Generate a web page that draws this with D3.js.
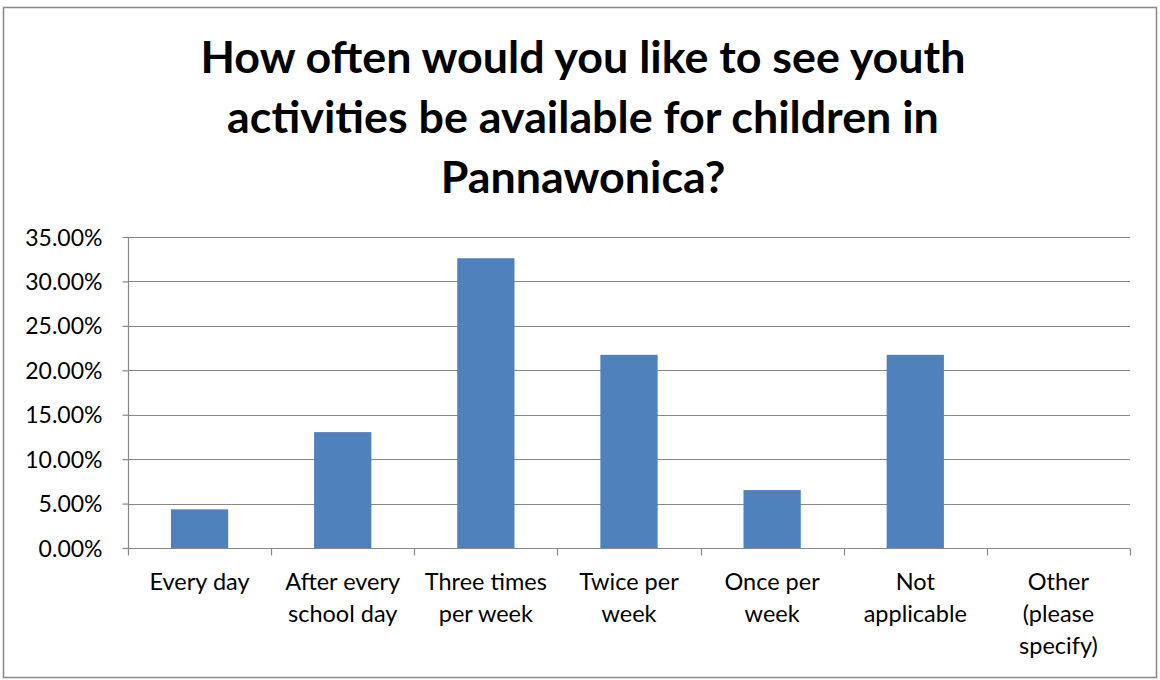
<!DOCTYPE html>
<html><head><meta charset="utf-8">
<script src="https://cdn.jsdelivr.net/npm/d3@7"></script>
<style>body{margin:0;background:#fff}svg{display:block}text{font-family:Lato,"Open Sans",sans-serif}</style>
</head><body><svg id="c" width="1160" height="680"></svg>
<script>
const titleLines = ["How often would you like to see youth","activities be available for children in","Pannawonica?"];
const categories = [["Every day"],["After every","school day"],["Three times","per week"],["Twice per","week"],["Once per","week"],["Not","applicable"],["Other","(please","specify)"]];
const values = [0.0435,0.1304,0.3261,0.2174,0.0652,0.2174,0];
const yTicks = [0,0.05,0.10,0.15,0.20,0.25,0.30,0.35];

const svg = d3.select("#c");
svg.append("rect").attr("x",3.5).attr("y",7.5).attr("width",1153).attr("height",670).attr("fill","#fff").attr("stroke","#888").attr("stroke-width",1.5);

const L=128,R=1130,T=237,B=548;
const x = d3.scaleBand().domain(d3.range(categories.length)).range([L,R]).paddingInner(0.6).paddingOuter(0.3);
const xb = d3.scaleBand().domain(d3.range(categories.length)).range([L,R]);
const y = d3.scaleLinear().domain([0,0.35]).range([B,T]);

svg.append("g").selectAll("line").data(yTicks.slice(1)).join("line")
 .attr("x1",L).attr("x2",R).attr("y1",d=>Math.round(y(d))+0.5).attr("y2",d=>Math.round(y(d))+0.5)
 .attr("stroke","#888").attr("stroke-width",1.2);

svg.append("g").selectAll("rect").data(values).join("rect")
 .attr("x",(d,i)=>x(i)).attr("width",x.bandwidth())
 .attr("y",d=>y(d)).attr("height",d=>B-y(d)).attr("fill","#4F81BD");

const ya = svg.append("g").attr("transform",`translate(${L+0.5},0)`)
 .call(d3.axisLeft(y).tickValues(yTicks).tickSize(6).tickPadding(20).tickFormat(d=>(d*100).toFixed(2)+"%"));
ya.select(".domain").attr("stroke","#888").attr("stroke-width",1.2).attr("d",`M0,${T}V${B}`);
ya.selectAll(".tick line").attr("stroke","#888").attr("stroke-width",1.2);
ya.selectAll(".tick text").attr("font-size",23).attr("fill","#000").attr("font-family","Lato, sans-serif").attr("dy","0.35em");

const xa = svg.append("g").attr("transform",`translate(0,${B+0.5})`);
xa.append("line").attr("x1",L).attr("x2",R).attr("stroke","#888").attr("stroke-width",1.2);
const bounds = d3.range(categories.length+1).map(i=> i<categories.length? xb(i) : R);
xa.selectAll("line.t").data(bounds).join("line").attr("class","t")
 .attr("x1",d=>Math.round(d)+0.5).attr("x2",d=>Math.round(d)+0.5).attr("y1",0).attr("y2",7)
 .attr("stroke","#888").attr("stroke-width",1.2);
xa.selectAll("text").data(categories).join("text")
 .attr("x",(d,i)=>xb(i)+xb.bandwidth()/2).attr("y",41).attr("text-anchor","middle")
 .attr("font-size",23.5).attr("fill","#000")
 .each(function(d){ const t=d3.select(this); d.forEach((s,k)=>t.append("tspan").attr("x",t.attr("x")).attr("dy",k?32:0).text(s)); });

svg.append("text").attr("x",583).attr("y",73).attr("text-anchor","middle")
 .attr("font-size",44.8).attr("font-weight","bold").attr("fill","#000")
 .selectAll("tspan").data(titleLines).join("tspan").attr("x",583).attr("dy",(d,i)=>i?60:0).text(d=>d);
</script></body></html>
